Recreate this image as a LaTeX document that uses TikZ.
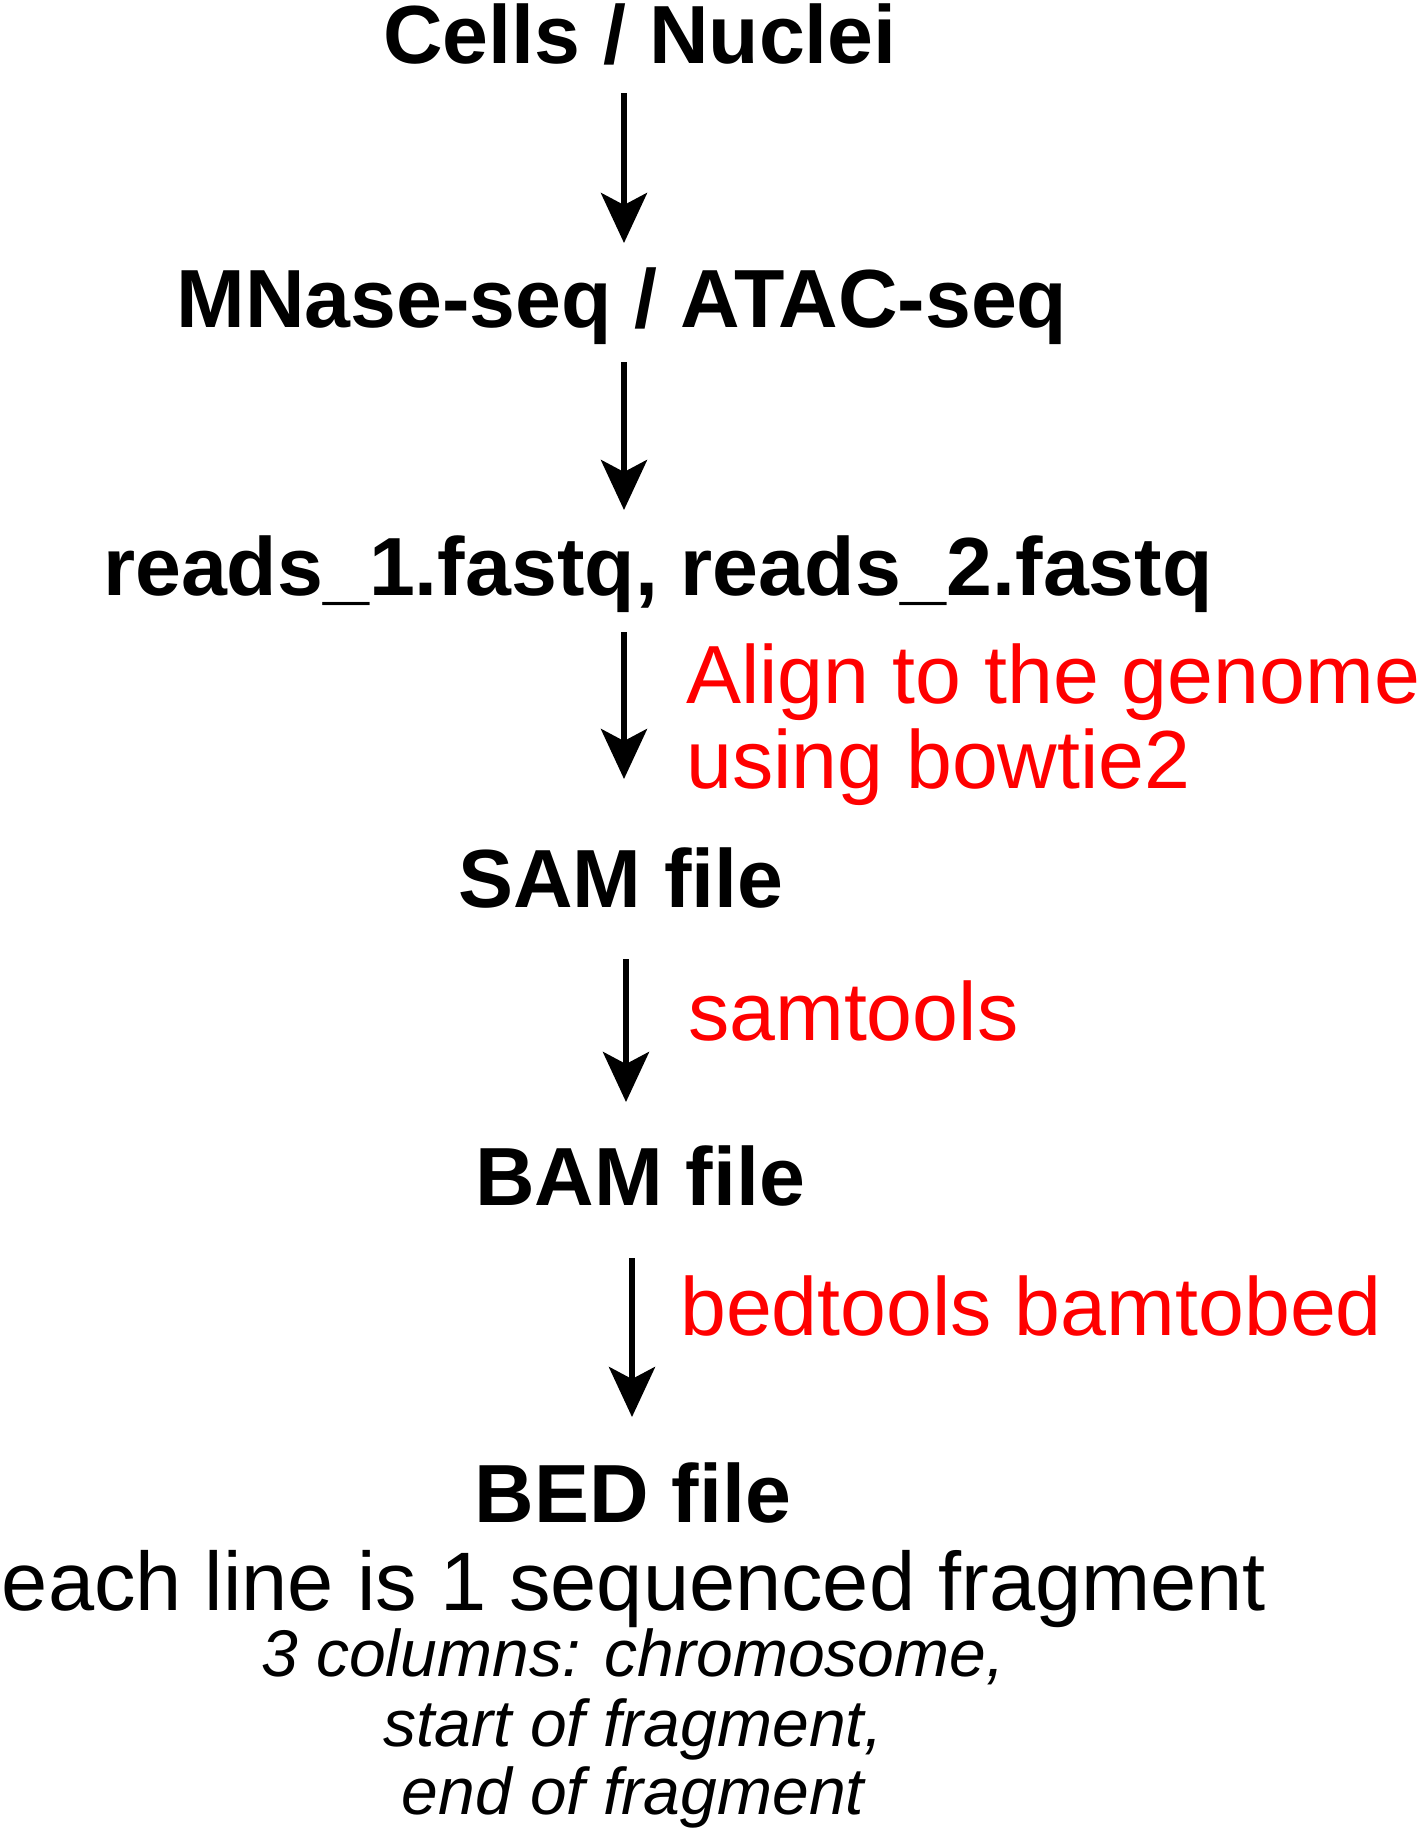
\documentclass[tikz,border=0pt]{standalone}
\usepackage{fontspec}
\setmainfont{Liberation Sans}
\usetikzlibrary{arrows.meta}
\definecolor{labred}{RGB}{255,0,0}
\tikzset{
  stage/.style={inner sep=0pt, anchor=base, font=\fontsize{82.5}{90}\selectfont\bfseries},
  tool/.style={inner sep=0pt, anchor=base west, text=labred, font=\fontsize{82.5}{90}\selectfont},
  plain/.style={inner sep=0pt, anchor=base, font=\fontsize{83}{90}\selectfont},
  note/.style={inner sep=0pt, anchor=base, font=\fontsize{66}{69.5}\selectfont\itshape},
  flow/.style={line width=6pt, -{Stealth[length=50pt, width=46pt, inset=12pt]}}
}
\begin{document}
\begin{tikzpicture}[x=1pt,y=1pt]
\useasboundingbox (0,0) rectangle (1423,-1829);
\node[stage] (cells) at (640,-63) {Cells / Nuclei};
\node[stage] (assay) at (622,-327) {MNase-seq / ATAC-seq};
\node[stage] (reads) at (658,-595) {reads\_1.fastq, reads\_2.fastq};
\node[stage] (sam) at (621,-907) {SAM file};
\node[stage] (bam) at (640,-1205) {BAM file};
\node[stage] (bed) at (633,-1522) {BED file};
\node[plain] (each) at (634,-1610) {each line is 1 sequenced fragment};
\node[note] (cols1) at (633,-1676) {3 columns: chromosome,};
\node[note] (cols2) at (633,-1746) {start of fragment,};
\node[note] (cols3) at (633,-1814) {end of fragment};
\node[tool] (align) at (686,-703) {Align to the genome};
\node[tool] (bowtie) at (686,-788) {using bowtie2};
\node[tool] (samtools) at (688,-1040) {samtools};
\node[tool] (bedtools) at (680,-1335) {bedtools bamtobed};
\coordinate (a1s) at (624,-93);  \coordinate (a1e) at (624,-243);
\coordinate (a2s) at (624,-362); \coordinate (a2e) at (624,-510);
\coordinate (a3s) at (624,-632); \coordinate (a3e) at (624,-779);
\coordinate (a4s) at (626,-959); \coordinate (a4e) at (626,-1102);
\coordinate (a5s) at (632,-1258); \coordinate (a5e) at (632,-1417);
\draw[flow] (a1s) -- (a1e);
\draw[flow] (a2s) -- (a2e);
\draw[flow] (a3s) -- (a3e);
\draw[flow] (a4s) -- (a4e);
\draw[flow] (a5s) -- (a5e);
\end{tikzpicture}
\end{document}
